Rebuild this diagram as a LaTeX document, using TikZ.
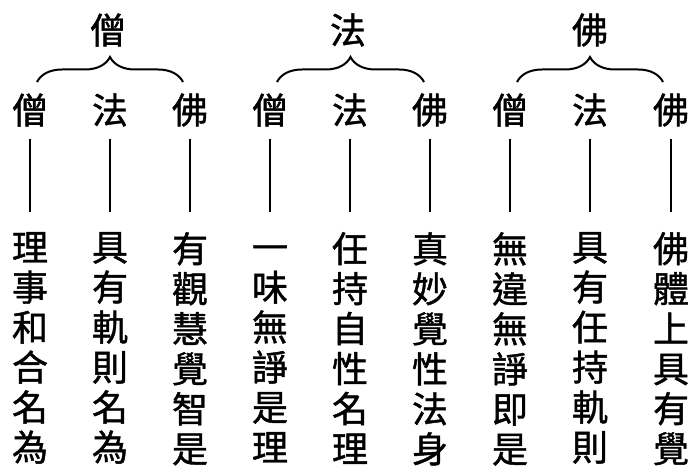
\documentclass[tikz,border=0pt]{standalone}
\usepackage{fontspec}
\newfontfamily\cjk{Noto Sans CJK TC}[FakeBold=1.2]
\usetikzlibrary{decorations.pathreplacing}
\begin{document}
\begin{tikzpicture}[x=1pt,y=-1pt,
  lab/.style={font=\cjk\fontsize{36}{40}\selectfont, inner sep=0pt},
  coltext/.style={font=\cjk\fontsize{36}{40}\selectfont, inner sep=0pt, align=center, anchor=north},
  stem/.style={line width=2.6pt, shorten <=12pt, shorten >=20pt},
  brc/.style={line width=2pt, decorate, decoration={brace, amplitude=25pt}}]
\useasboundingbox (0,0) rectangle (700,470);
% top labels
\node[lab] (t1) at (108,30) {僧};
\node[lab] (t2) at (348,30) {法};
\node[lab] (t3) at (590,30) {佛};
% braces
\coordinate (b1l) at (37,82);  \coordinate (b1r) at (183,82);
\coordinate (b2l) at (277,82); \coordinate (b2r) at (424,82);
\coordinate (b3l) at (517,82); \coordinate (b3r) at (663,82);
\draw[brc] (b1l) -- (b1r);
\draw[brc] (b2l) -- (b2r);
\draw[brc] (b3l) -- (b3r);
% second row
\node[lab] (s1) at (30,110) {僧};
\node[lab] (s2) at (110,110) {法};
\node[lab] (s3) at (190,110) {佛};
\node[lab] (s4) at (270,110) {僧};
\node[lab] (s5) at (350,110) {法};
\node[lab] (s6) at (430,110) {佛};
\node[lab] (s7) at (510,110) {僧};
\node[lab] (s8) at (590,110) {法};
\node[lab] (s9) at (671,110) {佛};
% columns
\node[coltext] (c1) at (30,232) {理\\事\\和\\合\\名\\為};
\node[coltext] (c2) at (110,232) {具\\有\\軌\\則\\名\\為};
\node[coltext] (c3) at (190,232) {有\\觀\\慧\\覺\\智\\是};
\node[coltext] (c4) at (270,232) {\vphantom{理}一\\味\\無\\諍\\是\\理};
\node[coltext] (c5) at (350,232) {任\\持\\自\\性\\名\\理};
\node[coltext] (c6) at (430,232) {真\\妙\\覺\\性\\法\\身};
\node[coltext] (c7) at (510,232) {無\\違\\無\\諍\\即\\是};
\node[coltext] (c8) at (590,232) {具\\有\\任\\持\\軌\\則};
\node[coltext] (c9) at (671,232) {佛\\體\\上\\具\\有\\覺};
% stems
\draw[stem] (s1.south) -- (c1.north);
\draw[stem] (s2.south) -- (c2.north);
\draw[stem] (s3.south) -- (c3.north);
\draw[stem] (s4.south) -- (c4.north);
\draw[stem] (s5.south) -- (c5.north);
\draw[stem] (s6.south) -- (c6.north);
\draw[stem] (s7.south) -- (c7.north);
\draw[stem, line width=1.8pt] (s8.south) -- (c8.north);
\draw[stem] (s9.south) -- (c9.north);
\end{tikzpicture}
\end{document}
